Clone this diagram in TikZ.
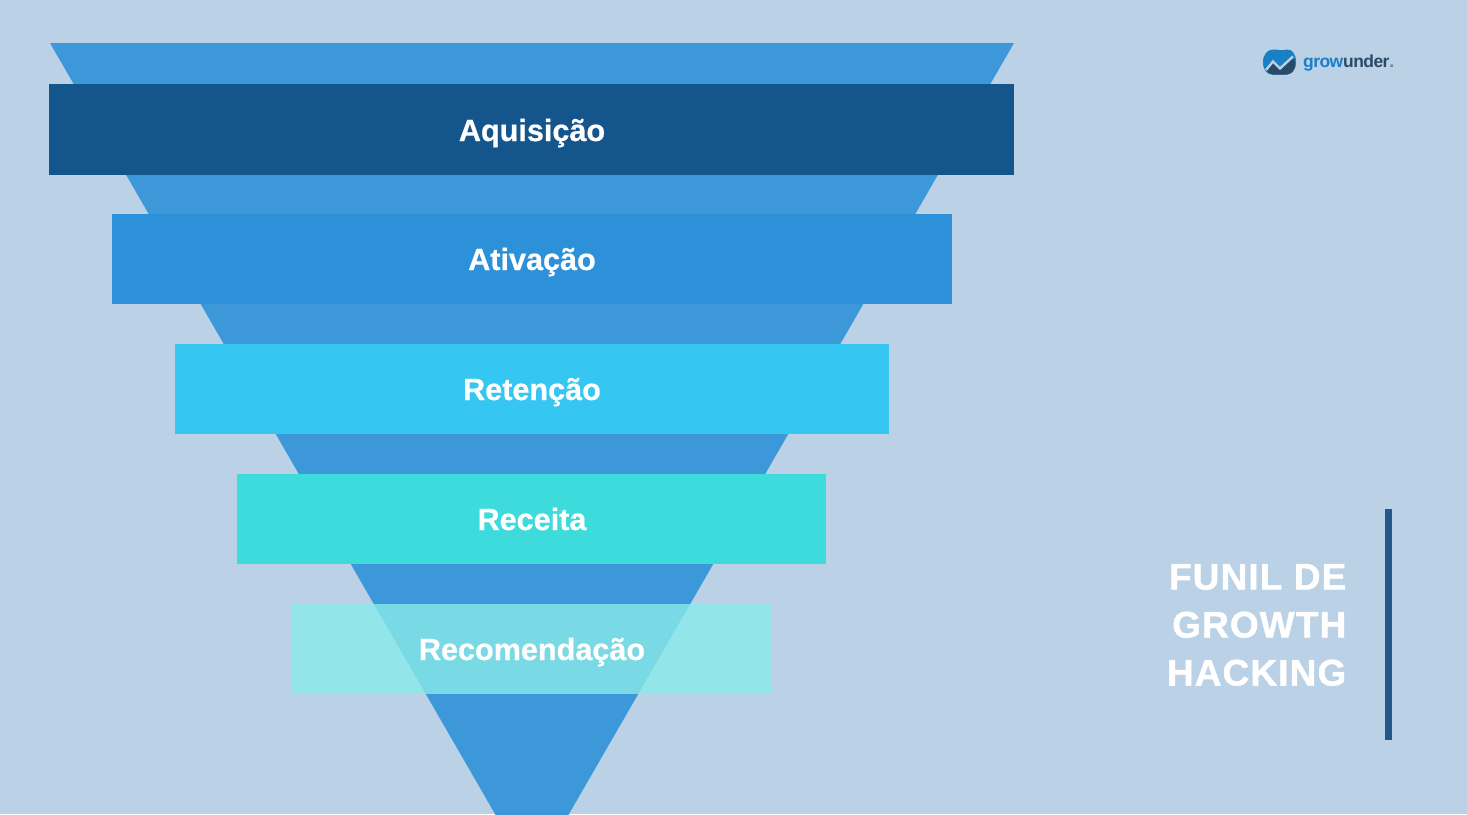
\documentclass[tikz,border=0pt]{standalone}
\usepackage{fontspec}
\setmainfont{Liberation Sans}
\newfontfamily\stagefont[FakeBold=0.6]{Liberation Sans Bold}
\newfontfamily\titlefont[FakeBold=1.3,LetterSpace=3.0]{Liberation Sans Bold}
\newfontfamily\logofont[LetterSpace=-3.4]{Liberation Sans Bold}
\definecolor{bgc}{HTML}{BAD1E6}
\definecolor{funnelc}{HTML}{3C98D8}
\definecolor{stageA}{HTML}{14558C}
\definecolor{stageB}{HTML}{2D91D9}
\definecolor{stageC}{HTML}{35C7F2}
\definecolor{stageD}{HTML}{3DDBDC}
\definecolor{stageE}{HTML}{89EBE9}
\definecolor{barc}{HTML}{24578A}
\definecolor{logoblue}{HTML}{1B7FC4}
\definecolor{logodark}{HTML}{2B4A66}
\tikzset{
  stagetext/.style={text=white,font=\fontsize{30.6}{30.6}\selectfont\stagefont,inner sep=0pt,anchor=base},
  titletext/.style={text=white,font=\fontsize{37}{37}\selectfont\titlefont,inner sep=0pt,anchor=base east},
}
\begin{document}
\begin{tikzpicture}[x=1pt,y=-1pt]
\useasboundingbox (0,0) rectangle (1467,814);
\fill[bgc] (0,0) rectangle (1467,814);
\begin{scope}
\clip (0,0) rectangle (1467,814);
\fill[funnelc] (50,43) -- (1014,43) -- (532,878) -- cycle;
\end{scope}
\fill[stageA] (49,84) rectangle (1014,175);
\fill[stageB] (112,214) rectangle (952,304);
\fill[stageC] (175,344) rectangle (889,434);
\fill[stageD] (237,474) rectangle (826,564);
\fill[stageE,opacity=.8] (292,604) rectangle (771,694);
\node[stagetext] (aq) at (532,141) {Aquisição};
\node[stagetext] (at) at (532,270) {Ativação};
\node[stagetext] (re) at (532,400) {Retenção};
\node[stagetext] (rc) at (532,530) {Receita};
\node[stagetext] (rm) at (532,660) {Recomendação};
\node[titletext] (t1) at (1346.5,589.5) {FUNIL DE};
\node[titletext] (t2) at (1346.5,637.5) {GROWTH};
\node[titletext] (t3) at (1346.5,685.5) {HACKING};
\fill[barc] (1384.5,509) rectangle (1392,740);
% logo
\fill[logoblue] (1263,62) .. controls (1263,54) and (1268,49.5) .. (1273,49.5)
  .. controls (1278,49.5) and (1282,51) .. (1287,49.5)
  .. controls (1292,49) and (1296,54) .. (1296,62)
  .. controls (1296,70) and (1292,74.5) .. (1287,74.5)
  .. controls (1282,74.5) and (1277,74.5) .. (1272,74.5)
  .. controls (1267,74.5) and (1263,70) .. (1263,62) -- cycle;
\fill[logodark] (1266.5,70) -- (1273,62) -- (1280,69) -- (1293,57)
  .. controls (1295.5,62) and (1296,66) .. (1294,69)
  .. controls (1292,72.5) and (1290,74.5) .. (1287,74.5)
  .. controls (1282,74.5) and (1277,74.5) .. (1272,74.5)
  .. controls (1270,74.5) and (1268,72.5) .. (1266.5,70) -- cycle;
\draw[bgc,line width=2.4pt] (1266,70) -- (1273,61.5) -- (1280,68.5) -- (1293,56.5);
\node[inner sep=0pt,anchor=base west,font=\fontsize{17.5}{17.5}\selectfont\logofont] (logo) at (1303,67.5)
  {\textcolor{logoblue}{grow}\textcolor{logodark}{under}\textcolor{gray}{.}};
\end{tikzpicture}
\end{document}
